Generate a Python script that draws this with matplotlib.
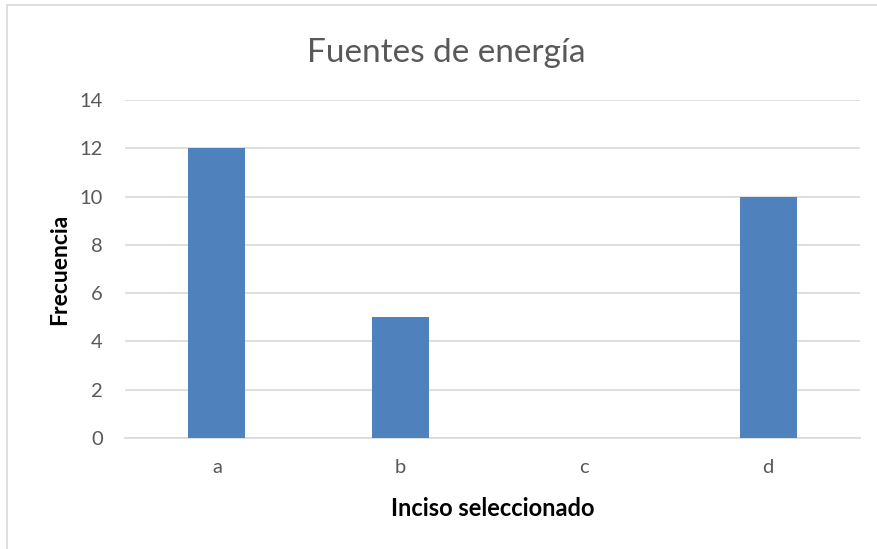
import matplotlib
matplotlib.use("Agg")
import matplotlib.pyplot as plt
from matplotlib.patches import Rectangle

categories = ["a", "b", "c", "d"]
frecuencia = [12, 5, 0, 10]
y_ticks = [0, 2, 4, 6, 8, 10, 12, 14]

W, H = 877, 549
fig = plt.figure(figsize=(W / 100, H / 100), dpi=100)
plt.rcParams["font.family"] = ["Lato", "DejaVu Sans"]

# chart-area border (only top and left edges fall inside the canvas)
fig.patches.append(Rectangle((7 / W, -0.1), 1.2, 1 - 5 / H + 0.1,
                             transform=fig.transFigure, fill=False,
                             edgecolor="#d9d9d9", linewidth=1.2))

ax = fig.add_axes([125 / W, 1 - 438 / H, (860 - 125) / W, (438 - 100) / H])
x = range(len(categories))
ax.bar(x, frecuencia, width=0.31, color="#4f81bd", zorder=3)

ax.set_xlim(-0.5, len(categories) - 0.5)
ax.set_ylim(0, 14)
ax.set_yticks(y_ticks)
ax.set_xticks(list(x))
ax.set_xticklabels(categories)
ax.yaxis.grid(True, color="#d9d9d9", linewidth=1.2, zorder=0)
for s in ["top", "right", "left"]:
    ax.spines[s].set_visible(False)
ax.spines["bottom"].set_color("#d9d9d9")
ax.spines["bottom"].set_linewidth(1.2)
ax.tick_params(axis="both", length=0, labelsize=14.5, labelcolor="#595959")
ax.tick_params(axis="y", pad=16)
ax.tick_params(axis="x", pad=15)

# title is centred on the whole chart area rather than on the plot area
ax.set_title("Fuentes de energía", fontsize=24, color="#595959", pad=27,
             x=(446 - 125) / 735)
ax.set_ylabel("Frecuencia", fontsize=16.5, fontweight="bold", color="black", labelpad=7)
ax.set_xlabel("Inciso seleccionado", fontsize=17, fontweight="bold", color="black", labelpad=15)

fig.savefig("out.png", dpi=100)
